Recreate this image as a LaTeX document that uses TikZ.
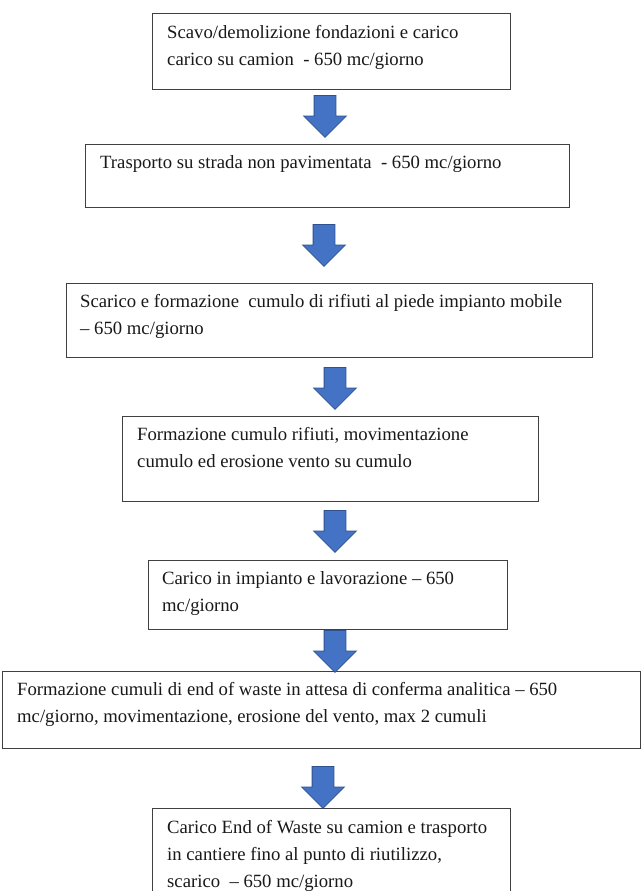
\documentclass[tikz,border=0pt]{standalone}
\usepackage{fontspec}
\setmainfont{Liberation Serif}
\usetikzlibrary{shapes.arrows}
\definecolor{arrowblue}{RGB}{68,114,196}
\definecolor{arrowedge}{RGB}{47,82,143}
\definecolor{boxedge}{RGB}{64,64,64}
\begin{document}
\begin{tikzpicture}[x=1bp,y=-1bp,
  stepframe/.style={draw=boxedge, line width=1.3bp, rectangle, inner sep=0pt, anchor=north west},
  steptext/.style={anchor=base west, inner sep=0pt, font=\fontsize{18.7bp}{27bp}\selectfont, text=black!90},
  flowarrow/.style={single arrow, draw=arrowedge, fill=arrowblue, line width=0.8bp, rotate=-90, anchor=tail,
    minimum height=42bp, minimum width=42bp, single arrow head extend=10.5bp,
    inner xsep=0pt, inner ysep=10.5bp, single arrow tip angle=90}]
\useasboundingbox (0,0) rectangle (642,891);
\fill[white] (0,0) rectangle (642,891);

% boxes
\node[stepframe, minimum width=358bp, minimum height=76bp] (b1) at (152,13) {};
\node[stepframe, minimum width=484bp, minimum height=63bp] (b2) at (85,144) {};
\node[stepframe, minimum width=526bp, minimum height=74bp] (b3) at (66,283) {};
\node[stepframe, minimum width=416bp, minimum height=85bp] (b4) at (122,416) {};
\node[stepframe, minimum width=359bp, minimum height=69bp] (b5) at (148,560) {};
\node[stepframe, minimum width=638bp, minimum height=77bp] (b6) at (2,671) {};
\node[stepframe, minimum width=358bp, minimum height=100bp] (b7) at (152,808) {};

% texts
\node[steptext] (t1) at (167,38) {\vtop{\hbox{Scavo/demolizione fondazioni e carico}\hbox{carico su camion~ - 650 mc/giorno}}};
\node[steptext] (t2) at (100,168) {\vtop{\hbox{Trasporto su strada non pavimentata~ - 650 mc/giorno}}};
\node[steptext] (t3) at (80,307) {\vtop{\hbox{Scarico e formazione~ cumulo di rifiuti al piede impianto mobile}\hbox{– 650 mc/giorno}}};
\node[steptext] (t4) at (137,440) {\vtop{\hbox{Formazione cumulo rifiuti, movimentazione}\hbox{cumulo ed erosione vento su cumulo}}};
\node[steptext] (t5) at (162,584) {\vtop{\hbox{Carico in impianto e lavorazione – 650}\hbox{mc/giorno}}};
\node[steptext] (t6) at (17,695) {\vtop{\hbox{Formazione cumuli di end of waste in attesa di conferma analitica – 650}\hbox{mc/giorno, movimentazione, erosione del vento, max 2 cumuli}}};
\node[steptext] (t7) at (167,833) {\vtop{\hbox{Carico End of Waste su camion e trasporto}\hbox{in cantiere fino al punto di riutilizzo,}\hbox{scarico~ – 650 mc/giorno}}};

% block arrows
\node[flowarrow] (a1) at (325,95) {};
\node[flowarrow] (a2) at (324,224) {};
\node[flowarrow] (a3) at (335,367) {};
\node[flowarrow] (a4) at (335,510) {};
\node[flowarrow] (a5) at (335,630) {};
\node[flowarrow] (a6) at (323,766) {};
\end{tikzpicture}
\end{document}
